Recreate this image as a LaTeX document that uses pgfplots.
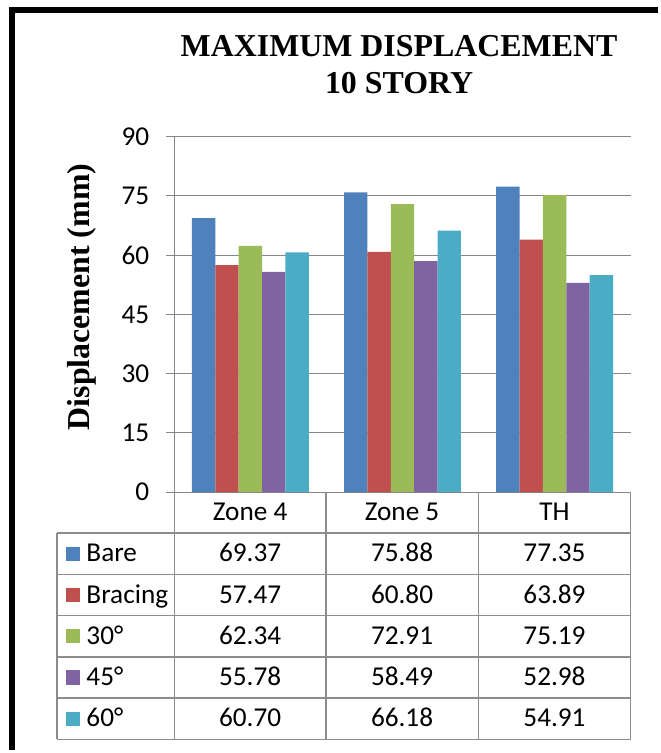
\documentclass[border=0pt]{standalone}
\usepackage{pgfplots}
\usepackage{pgfplotstable}
\pgfplotsset{compat=1.18}
\usepackage{fontspec}
\setmainfont{Carlito}
\newfontfamily\tnr{Liberation Serif}
\definecolor{cBare}{HTML}{4F81BD}
\definecolor{cBracing}{HTML}{C0504D}
\definecolor{cThirty}{HTML}{9BBB59}
\definecolor{cFortyfive}{HTML}{8064A2}
\definecolor{cSixty}{HTML}{4BACC6}
\definecolor{gridgray}{HTML}{868686}
\definecolor{tablegray}{HTML}{8C8C8C}
\newcommand\tabfont{\fontsize{20.5}{24}\selectfont}

\pgfplotstableread{
cat Bare Bracing D30 D45 D60
Zone4 69.37 57.47 62.34 55.78 60.70
Zone5 75.88 60.80 72.91 58.49 66.18
TH 77.35 63.89 75.19 52.98 54.91
}\datatable

\begin{document}
\begin{tikzpicture}
\begin{scope}[shift={(-131.25pt,370.5pt)},x=0.75pt,y=-0.75pt]
\path[use as bounding box] (0,0) rectangle (657,753);
\end{scope}
\begin{axis}[
  at={(0,0)}, anchor=south west, scale only axis,
  width=343.5pt, height=267.75pt,
  ymin=0, ymax=90, ytick={0,15,...,90},
  xmin=-0.5, xmax=2.5, xtick=\empty,
  enlargelimits=false,
  ybar=0pt, bar width=17.6pt,
  axis lines=left,
  axis line style={gridgray, line width=0.75pt, -},
  ymajorgrids, grid style={gridgray, line width=0.75pt},
  major tick style={gridgray, line width=0.75pt},
  tick align=outside, major tick length=6pt,
  yticklabel style={font=\tabfont, text=black, inner sep=0pt, anchor=east, xshift=-12.75pt},
  /pgf/number format/assume math mode=true,
]
\addplot[fill=cBare, draw=none] table[x expr=\coordindex, y=Bare]{\datatable};
\addplot[fill=cBracing, draw=none] table[x expr=\coordindex, y=Bracing]{\datatable};
\addplot[fill=cThirty, draw=none] table[x expr=\coordindex, y=D30]{\datatable};
\addplot[fill=cFortyfive, draw=none] table[x expr=\coordindex, y=D45]{\datatable};
\addplot[fill=cSixty, draw=none] table[x expr=\coordindex, y=D60]{\datatable};
\end{axis}
\begin{scope}[shift={(-131.25pt,370.5pt)},x=0.75pt,y=-0.75pt]
% frame
\draw[black, line width=4.1pt] (12,753) -- (12,10) -- (660,10);
% title
\node[anchor=base, inner sep=0pt, font=\tnr\bfseries\fontsize{24}{28}\selectfont] at (400.5,57) {MAXIMUM DISPLACEMENT};
\node[anchor=base, inner sep=0pt, font=\tnr\bfseries\fontsize{24}{28}\selectfont] at (400.5,94) {10 STORY};
% y label
\node[rotate=90, anchor=base, inner sep=0pt, font=\tnr\bfseries\fontsize{24}{28}\selectfont] at (90,298) {Displacement (mm)};
% table grid
\begin{scope}[tablegray, line width=1.1pt]
\draw (175,494) -- (175,742);
\draw (327,494) -- (327,742);
\draw (480,494) -- (480,742);
\draw (633,494) -- (633,742);
\draw (57,535) -- (57,742);
\foreach \yy in {535,576.4,617.8,659.2,700.6,742} {\draw (57,\yy) -- (633,\yy);}
\end{scope}
% header
\foreach \xc/\lab in {251/Zone 4, 403.5/Zone 5, 556.5/TH} {
  \node[anchor=base, inner sep=0pt, font=\tabfont] at (\xc,522.3) {\lab};
}
% legend keys
\foreach \cc/\lab/\r in {cBare/Bare/0, cBracing/Bracing/1, cThirty/30°/2, cFortyfive/45°/3, cSixty/60°/4} {
  \fill[\cc] (66,{535+41.4*(\r+0.5)-7.2}) rectangle (80.5,{535+41.4*(\r+0.5)+7.2});
  \node[anchor=base west, inner sep=0pt, font=\tabfont] at (86.5,{535+41.4*(\r+0.5)+8.3}) {\lab};
}
% values
\foreach \col/\r in {Bare/0, Bracing/1, D30/2, D45/3, D60/4} {
  \foreach \c/\xc in {0/251, 1/403.5, 2/556.5} {
    \pgfplotstablegetelem{\c}{\col}\of\datatable
    \node[anchor=base, inner sep=0pt, font=\tabfont] at (\xc,{535+41.4*(\r+0.5)+8.3}) {\pgfplotsretval};
  }
}
\end{scope}
\end{tikzpicture}
\end{document}
